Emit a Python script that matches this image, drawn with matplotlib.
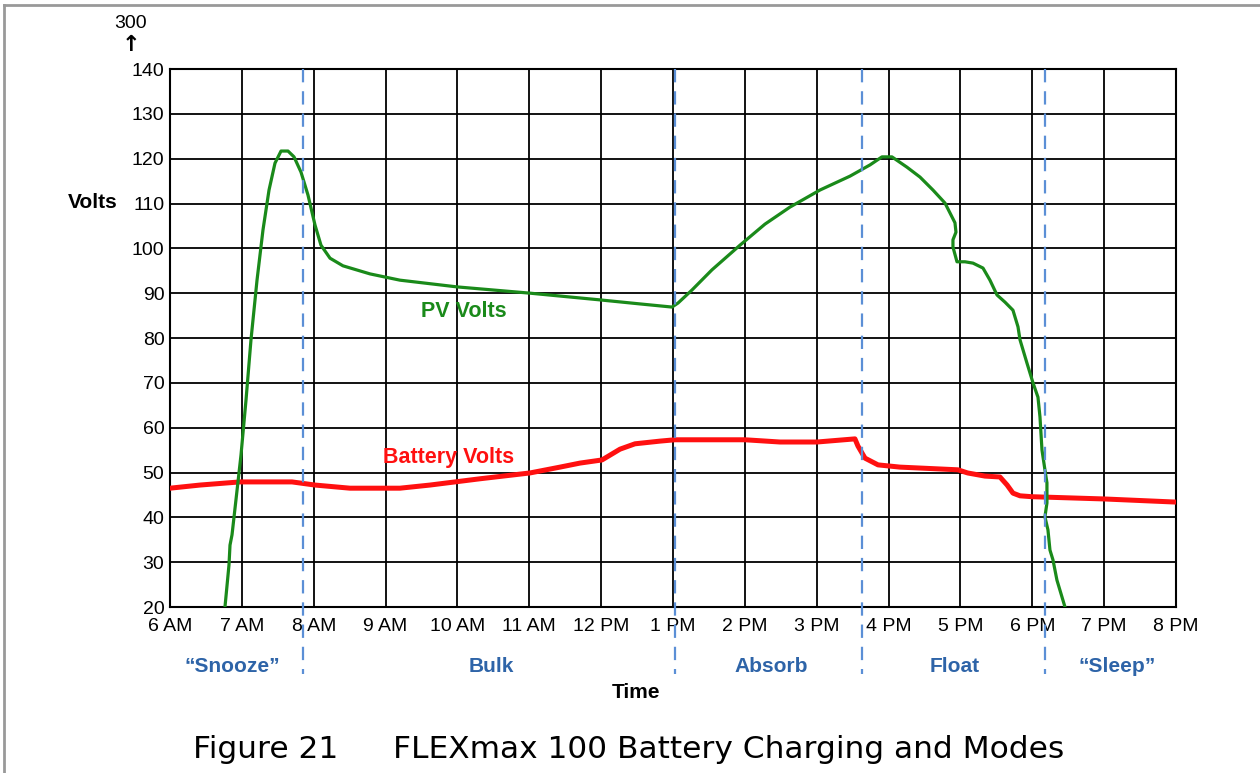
import matplotlib
matplotlib.use("Agg")
import matplotlib.pyplot as plt
from matplotlib.lines import Line2D

plt.rcParams['font.family'] = ['Liberation Sans', 'DejaVu Sans']

# ---- data (hours of day, volts) ----
pv_t = [6.765, 6.821, 6.835, 6.863, 6.918, 6.988, 7.058, 7.127, 7.211, 7.294, 7.378,
        7.461, 7.545, 7.642, 7.726, 7.823, 7.92, 8.018, 8.101, 8.227, 8.407, 8.783,
        9.2, 9.994, 11.01, 11.984, 12.541, 12.986, 13.07, 13.264, 13.542, 13.932,
        14.28, 14.628, 15.045, 15.463, 15.741, 15.908, 16.047, 16.256, 16.437,
        16.618, 16.785, 16.924, 16.938, 16.896, 16.896, 16.952, 17.063, 17.175,
        17.314, 17.411, 17.509, 17.62, 17.731, 17.801, 17.829, 17.926, 18.01,
        18.079, 18.107, 18.135, 18.176, 18.204, 18.204, 18.176, 18.218, 18.246,
        18.288, 18.343, 18.455]
pv_v = [20, 29.4, 33.8, 36.1, 43.9, 53.9, 66.2, 79.6, 92.9, 104.1, 113,
        119, 121.7, 121.7, 120.4, 117, 111.9, 105.2, 100.7, 97.8, 96.1, 94.3,
        92.9, 91.4, 90, 88.5, 87.6, 86.9, 87.8, 90.7, 95.2, 100.7,
        105.4, 109.2, 113, 116.1, 118.6, 120.4, 120.4, 118.1, 115.9,
        113, 110.1, 105.7, 103.6, 101.9, 100.3, 97, 97, 96.7,
        95.6, 92.9, 89.6, 88, 86.2, 82.5, 79.6, 74.4, 70,
        66.8, 62.4, 55, 50.6, 47.7, 43.2, 40.1, 37.2, 32.7,
        30.5, 26, 20]

bat_t = [6.0, 6.417, 6.974, 7.698, 8.018, 8.505, 9.2, 9.618, 10.314, 11.01, 11.427,
         11.706, 12.012, 12.262, 12.471, 12.819, 13.027, 14.002, 14.489, 15.004,
         15.532, 15.574, 15.672, 15.853, 16.159, 16.966, 17.1, 17.341, 17.55,
         17.65, 17.731, 17.829, 17.996, 18.998, 20.0]
bat_v = [46.5, 47.2, 47.9, 47.9, 47.2, 46.5, 46.5, 47.2, 48.6, 49.9, 51.2,
         52.1, 52.8, 55.2, 56.4, 57.0, 57.3, 57.3, 56.8, 56.8,
         57.5, 55.9, 53.2, 51.7, 51.2, 50.6, 49.9, 49.2, 49.0,
         47.2, 45.4, 44.8, 44.6, 44.1, 43.4]

hours = list(range(6, 21))
hour_labels = ["6 AM", "7 AM", "8 AM", "9 AM", "10 AM", "11 AM", "12 PM", "1 PM",
               "2 PM", "3 PM", "4 PM", "5 PM", "6 PM", "7 PM", "8 PM"]
y_ticks = list(range(20, 141, 10))

mode_bounds = [7.851, 13.028, 15.63, 18.176]
mode_names = ["\u201cSnooze\u201d", "Bulk", "Absorb", "Float", "\u201cSleep\u201d"]
mode_centers = [6.865, 10.465, 14.365, 16.925, 19.18]

# ---- figure ----
fig = plt.figure(figsize=(12.6, 7.73), dpi=100)
ax = fig.add_axes([170/1260, 1 - 607/773, (1176-170)/1260, (607-69)/773])

ax.set_xlim(6, 20)
ax.set_ylim(20, 140)
ax.set_xticks(hours)
ax.set_xticklabels(hour_labels)
ax.set_yticks(y_ticks)
ax.tick_params(length=0, labelsize=14, pad=4)
ax.tick_params(axis='x', pad=8)
ax.grid(True, color='black', linewidth=1.3)
for s in ax.spines.values():
    s.set_linewidth(1.5)
    s.set_color('black')
ax.set_axisbelow(True)

ax.plot(bat_t, bat_v, color='#ff1010', linewidth=3.6, solid_joinstyle='round', zorder=3)
ax.plot(pv_t, pv_v, color='#1a8a1a', linewidth=2.3, solid_joinstyle='round', zorder=4)

# mode boundaries (extend below axes)
for b in mode_bounds:
    ax.plot([b, b], [140, 5], color='#5b8fd6', linewidth=1.6,
            linestyle=(0, (6, 4)), clip_on=False, zorder=5)

for name, c in zip(mode_names, mode_centers):
    ax.text(c, 6.8, name, color='#2e64a8', fontsize=15, fontweight='bold',
            ha='center', va='center', clip_on=False)

fig.text(636/1260, 1 - 693/773, "Time", fontsize=15, fontweight='bold',
         ha='center', va='center')
fig.text(118/1260, 1 - 203/773, "Volts", fontsize=15, fontweight='bold',
         ha='right', va='center')
fig.text(131/1260, 1 - 24/773, "300", fontsize=14, ha='center', va='center')
fig.text(131/1260, 1 - 45/773, "\u2191", fontsize=16, fontweight='bold',
         ha='center', va='center', family='DejaVu Sans')

ax.text(10.09, 85.8, "PV Volts", color='#1a8a1a', fontsize=15.5, fontweight='bold',
        ha='center', va='center')
ax.text(9.87, 53.4, "Battery Volts", color='#ff1010', fontsize=15.5, fontweight='bold',
        ha='center', va='center')

fig.text(193/1260, 1 - 750/773, "Figure 21", fontsize=22.5, ha='left', va='center',
         family='DejaVu Sans')
fig.text(393/1260, 1 - 750/773, "FLEXmax 100 Battery Charging and Modes",
         fontsize=22.5, ha='left', va='center', family='DejaVu Sans')

# grey page border (top and left)
fig.add_artist(Line2D([4/1260, 1], [1 - 5/773, 1 - 5/773], transform=fig.transFigure,
                      color='#999999', linewidth=2))
fig.add_artist(Line2D([4/1260, 4/1260], [0, 1 - 5/773], transform=fig.transFigure,
                      color='#999999', linewidth=2))

fig.savefig("out.png", dpi=100, facecolor='white')
